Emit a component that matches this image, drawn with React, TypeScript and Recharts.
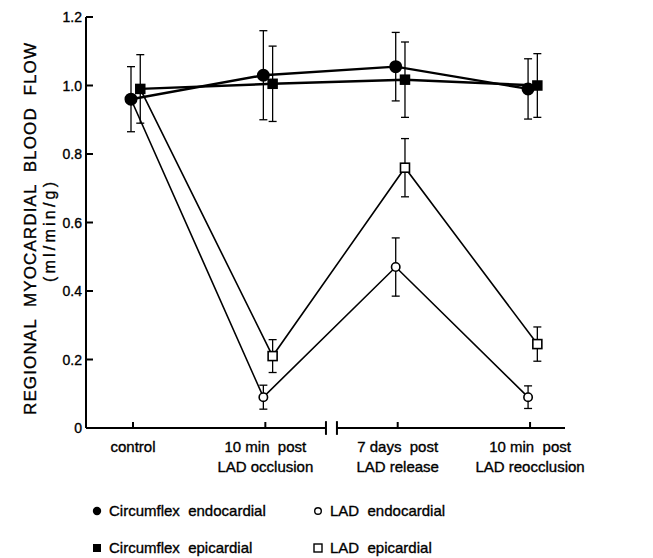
import React from 'react';
import { LineChart, Line, XAxis, YAxis, ErrorBar, ReferenceLine } from 'recharts';

// period labels under the x axis (one or two lines each)
const CATEGORIES = [
  ['control'],
  ['10 min  post', 'LAD occlusion'],
  ['7 days  post', 'LAD release'],
  ['10 min  post', 'LAD reocclusion'],
];
const Y_TICKS = [0, 0.2, 0.4, 0.6, 0.8, 1.0, 1.2];

// ml/min/g, mean and SE
const circEndo = [0.96, 1.03, 1.055, 0.99];
const circEndoErr = [0.095, 0.13, 0.1, 0.088];
const circEpi = [0.99, 1.005, 1.017, 1.0];
const circEpiErr = [0.1, 0.11, 0.11, 0.093];
const ladEndo = [0.96, 0.09, 0.47, 0.09];
const ladEndoErr = [null, 0.035, 0.085, 0.033];
const ladEpi = [0.99, 0.21, 0.76, 0.245];
const ladEpiErr = [null, 0.048, 0.085, 0.05];

const FONT = '"Liberation Sans", Arial, sans-serif';
const ENDO_SHIFT = -0.015;
const EPI_SHIFT = 0.055;
const X_DOMAIN: [number, number] = [-0.355, 3.264];
const BREAK = [1.458, 1.541];
// slight outline so the text reads as heavy as the scanned lettering
const HEAVY = { stroke: '#000', strokeWidth: 0.35, whiteSpace: 'pre' } as const;

const toPoints = (vals: number[], errs: (number | null)[], shift: number) =>
  vals.map((v, i) => ({ x: i + shift, y: v, err: errs[i] }));

const XTick = ({ x, y, payload }: any) => {
  const lines = CATEGORIES[payload.value] || [];
  return (
    <g>
      <line x1={x} y1={y} x2={x} y2={y - 6} stroke="#000" strokeWidth={2} />
      {lines.map((t, i) => (
        <text key={i} x={x} y={y + 24 + i * 20} textAnchor="middle" fontSize={15} fontFamily={FONT} fill="#000" style={HEAVY}>
          {t}
        </text>
      ))}
    </g>
  );
};

const YTick = ({ x, y, payload }: any) => (
  <g>
    <line x1={x} y1={y} x2={x + 7} y2={y} stroke="#000" strokeWidth={2} />
    <text x={x - 4} y={y + 5} textAnchor="end" fontSize={14} fontFamily={FONT} fill="#000" style={HEAVY}>
      {payload.value === 0 ? '0' : payload.value.toFixed(1)}
    </text>
  </g>
);

const filledSquare = (size: number) => (p: any) => (
  <rect key={`fs${p.index}`} x={p.cx - size / 2} y={p.cy - size / 2} width={size} height={size} fill="#000" />
);
const openSquare = (size: number) => (p: any) =>
  p.index === 0 ? <g key={`os${p.index}`} /> : (
    <rect key={`os${p.index}`} x={p.cx - size / 2} y={p.cy - size / 2} width={size} height={size} fill="#fff" stroke="#000" strokeWidth={1.6} />
  );
const openCircle = (p: any) =>
  p.index === 0 ? <g key={`oc${p.index}`} /> : (
    <circle key={`oc${p.index}`} cx={p.cx} cy={p.cy} r={4.2} fill="#fff" stroke="#000" strokeWidth={1.6} />
  );

const legendRows = [
  [{ mark: 'fc', text: 'Circumflex  endocardial' }, { mark: 'oc', text: 'LAD  endocardial' }],
  [{ mark: 'fs', text: 'Circumflex  epicardial' }, { mark: 'os', text: 'LAD  epicardial' }],
];

const LegendMark = ({ kind }: { kind: string }) => (
  <svg width={12} height={12} style={{ display: 'block' }}>
    {kind === 'fc' && <circle cx={6} cy={6} r={4.2} fill="#000" />}
    {kind === 'oc' && <circle cx={6} cy={6} r={3.3} fill="#fff" stroke="#000" strokeWidth={1.4} />}
    {kind === 'fs' && <rect x={2} y={2} width={8} height={8} fill="#000" />}
    {kind === 'os' && <rect x={2} y={2} width={8} height={8} fill="#fff" stroke="#000" strokeWidth={1.4} />}
  </svg>
);

export default function App() {
  return (
    <div style={{ position: 'relative', width: 653, height: 558, background: '#fff' }}>
      <style>{'body{margin:0}'}</style>
      <LineChart width={653} height={558} margin={{ top: 17, right: 88, bottom: 100, left: 0 }}>
        <XAxis
          dataKey="x"
          type="number"
          domain={X_DOMAIN}
          ticks={[0, 1, 2, 3]}
          height={30}
          axisLine={false}
          tickLine={false}
          tickSize={0}
          tickMargin={0}
          tick={<XTick />}
          interval={0}
          allowDataOverflow
        />
        <YAxis
          type="number"
          domain={[0, 1.2]}
          ticks={Y_TICKS}
          width={86}
          axisLine={{ stroke: '#000', strokeWidth: 2 }}
          tickLine={false}
          tickSize={0}
          tickMargin={0}
          tick={<YTick />}
          interval={0}
          label={{
            content: () => (
              <g fontFamily={FONT} fill="#000">
                <text x={30} y={229} transform="rotate(-90, 30, 229)" textAnchor="middle" dominantBaseline="central" fontSize={17} textLength={372} lengthAdjust="spacing" style={HEAVY}>
                  REGIONAL  MYOCARDIAL  BLOOD  FLOW
                </text>
                <text x={49} y={232} transform="rotate(-90, 49, 232)" textAnchor="middle" dominantBaseline="central" fontSize={16} textLength={100} lengthAdjust="spacing" style={HEAVY}>
                  (ml/min/g)
                </text>
              </g>
            ),
          }}
        />
        {/* x axis drawn in two pieces with a break */}
        <ReferenceLine ifOverflow="visible" stroke="#000" strokeWidth={2} segment={[{ x: X_DOMAIN[0], y: 0 }, { x: BREAK[0], y: 0 }]} />
        <ReferenceLine ifOverflow="visible" stroke="#000" strokeWidth={2} segment={[{ x: BREAK[1], y: 0 }, { x: X_DOMAIN[1], y: 0 }]} />
        <ReferenceLine ifOverflow="visible" stroke="#000" strokeWidth={2} segment={[{ x: BREAK[0], y: -0.02 }, { x: BREAK[0], y: 0.02 }]} />
        <ReferenceLine ifOverflow="visible" stroke="#000" strokeWidth={2} segment={[{ x: BREAK[1], y: -0.02 }, { x: BREAK[1], y: 0.02 }]} />

        <Line data={toPoints(ladEndo, ladEndoErr, ENDO_SHIFT)} dataKey="y" stroke="#000" strokeWidth={1.6} dot={openCircle} isAnimationActive={false}>
          <ErrorBar dataKey="err" width={4} stroke="#000" strokeWidth={1.3} direction="y" />
        </Line>
        <Line data={toPoints(ladEpi, ladEpiErr, EPI_SHIFT)} dataKey="y" stroke="#000" strokeWidth={1.6} dot={openSquare(9)} isAnimationActive={false}>
          <ErrorBar dataKey="err" width={4} stroke="#000" strokeWidth={1.3} direction="y" />
        </Line>
        <Line data={toPoints(circEndo, circEndoErr, ENDO_SHIFT)} dataKey="y" stroke="#000" strokeWidth={2.4} dot={{ r: 5.3, fill: '#000', stroke: '#000' }} isAnimationActive={false}>
          <ErrorBar dataKey="err" width={4} stroke="#000" strokeWidth={1.3} direction="y" />
        </Line>
        <Line data={toPoints(circEpi, circEpiErr, EPI_SHIFT)} dataKey="y" stroke="#000" strokeWidth={2.4} dot={filledSquare(10.5)} isAnimationActive={false}>
          <ErrorBar dataKey="err" width={4} stroke="#000" strokeWidth={1.3} direction="y" />
        </Line>
      </LineChart>

      {legendRows.map((row, r) =>
        row.map((item, c) => (
          <div
            key={`${r}-${c}`}
            style={{
              position: 'absolute',
              left: c === 0 ? 91 : 312,
              top: r === 0 ? 501 : 538,
              display: 'flex',
              alignItems: 'center',
              gap: 6,
              fontFamily: FONT,
              fontSize: 15,
              whiteSpace: 'pre',
              lineHeight: '20px',
              WebkitTextStroke: '0.35px #000',
            }}
          >
            <LegendMark kind={item.mark} />
            <span>{item.text}</span>
          </div>
        ))
      )}
    </div>
  );
}
